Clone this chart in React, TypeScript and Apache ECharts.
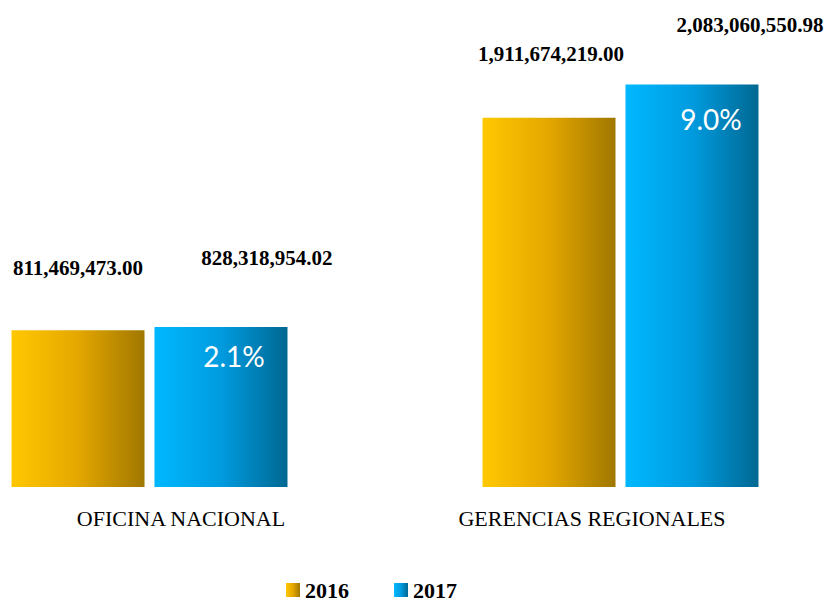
import React, { useEffect, useRef } from "react";
import * as echarts from "echarts";

const categories = ["OFICINA NACIONAL", "GERENCIAS REGIONALES"];
const seriesNames = ["2016", "2017"];
const values2016 = [811469473.0, 1911674219.0];
const values2017 = [828318954.02, 2083060550.98];
const growthLabels = ["2.1%", "9.0%"];

// label placement tweaks (layout only)
const valueLabelOffsets2016 = [[0, -52], [2, -53]];
const valueLabelOffsets2017 = [[46, -58], [58, -49]];
const growthLabelOffsets = [[13, 0], [19, 5]];

const SERIF = "'Liberation Serif', 'Times New Roman', serif";
const fmt = (v: number) =>
  v.toLocaleString("en-US", { minimumFractionDigits: 2, maximumFractionDigits: 2 });

export default function App() {
  const ref = useRef<HTMLDivElement>(null);
  useEffect(() => {
    document.body.style.margin = "0";
    const chart = echarts.init(ref.current!, null, { renderer: "svg" });
    const gold = new echarts.graphic.LinearGradient(0, 0, 1, 0, [
      { offset: 0, color: "#FFC800" },
      { offset: 0.5, color: "#E4A700" },
      { offset: 1, color: "#A07700" },
    ]);
    const blue = new echarts.graphic.LinearGradient(0, 0, 1, 0, [
      { offset: 0, color: "#00B8FF" },
      { offset: 0.5, color: "#009BDF" },
      { offset: 1, color: "#006892" },
    ]);
    const gridBox = { left: 149.5, width: 471, top: 4, height: 483 };
    const valueLabel = {
      show: true,
      position: "top",
      distance: 0,
      fontFamily: SERIF,
      fontWeight: "bold",
      fontSize: 21,
      color: "#000",
      formatter: (p: any) => fmt(p.value),
    };
    const yAx = (gi: number) => ({
      type: "value",
      gridIndex: gi,
      min: 0,
      max: 2500000000,
      show: false,
      splitLine: { show: false },
    });
    chart.setOption({
      animation: false,
      grid: [
        { ...gridBox },
        { left: 181, width: 411, top: 4, height: 483 },
        { ...gridBox },
      ],
      xAxis: [
        { type: "category", gridIndex: 0, data: categories, boundaryGap: false, show: false },
        {
          type: "category",
          gridIndex: 1,
          data: categories,
          boundaryGap: false,
          axisLine: { show: false },
          axisTick: { show: false },
          axisLabel: {
            margin: 20,
            fontFamily: SERIF,
            fontSize: 22,
            color: "#000",
          },
        },
        { type: "category", gridIndex: 2, data: categories, boundaryGap: false, show: false },
      ],
      yAxis: [yAx(0), yAx(1), yAx(2)],
      legend: {
        data: seriesNames,
        left: 281,
        top: 574,
        icon: "rect",
        itemWidth: 14,
        itemHeight: 14,
        itemGap: 45,
        textStyle: { fontFamily: SERIF, fontWeight: "bold", fontSize: 22, color: "#000" },
      },
      series: [
        {
          name: seriesNames[0],
          type: "bar",
          xAxisIndex: 0,
          yAxisIndex: 0,
          barWidth: 133,
          barGap: "7.5%",
          itemStyle: { color: gold },
          label: valueLabel,
          data: values2016.map((v, i) => ({ value: v, label: { offset: valueLabelOffsets2016[i] } })),
        },
        {
          name: seriesNames[1],
          type: "bar",
          xAxisIndex: 0,
          yAxisIndex: 0,
          barWidth: 133,
          barGap: "7.5%",
          itemStyle: { color: blue },
          label: valueLabel,
          data: values2017.map((v, i) => ({ value: v, label: { offset: valueLabelOffsets2017[i] } })),
        },
        {
          name: "overlay-a",
          type: "bar",
          xAxisIndex: 2,
          yAxisIndex: 2,
          barWidth: 133,
          barGap: "7.5%",
          silent: true,
          itemStyle: { color: "rgba(0,0,0,0)" },
          data: values2016.map(() => "-"),
        },
        {
          name: "overlay-b",
          type: "bar",
          xAxisIndex: 2,
          yAxisIndex: 2,
          barWidth: 133,
          barGap: "7.5%",
          silent: true,
          itemStyle: { color: "rgba(0,0,0,0)" },
          label: {
            show: true,
            position: "insideTop",
            distance: 15,
            fontFamily: "Lato, 'Open Sans', sans-serif",
            fontSize: 28,
            color: "#fff",
            formatter: (p: any) => growthLabels[p.dataIndex],
          },
          data: values2017.map((v, i) => ({ value: v, label: { offset: growthLabelOffsets[i] } })),
        },
      ],
    });
    return () => chart.dispose();
  }, []);
  return <div ref={ref} style={{ width: 829, height: 602 }} />;
}
